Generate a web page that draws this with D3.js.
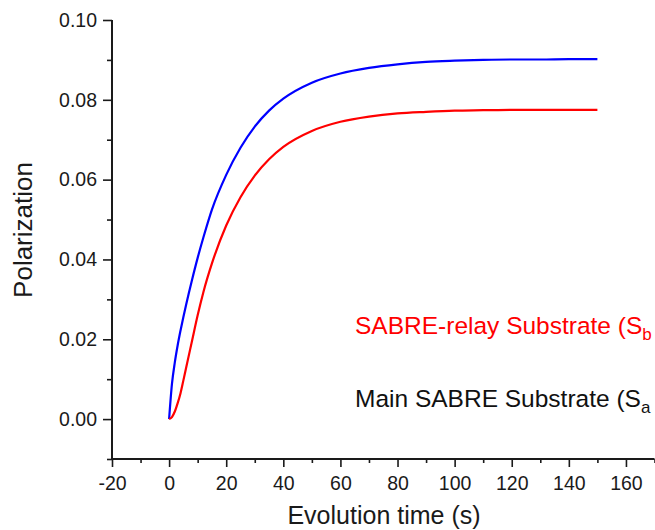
<!DOCTYPE html>
<html>
<head>
<meta charset="utf-8">
<script src="https://cdn.jsdelivr.net/npm/d3@7/dist/d3.min.js"></script>
<style>
  html, body { margin: 0; padding: 0; background: #fff; }
  svg { display: block; font-family: "Liberation Sans", Arial, sans-serif; }
</style>
</head>
<body>
<svg id="chart" width="655" height="530"></svg>
<script>
// ---- data ----
const times = [0, 1, 2, 3, 4, 5, 6, 8, 10, 12, 15, 20, 25, 30, 35, 40, 50, 60, 70, 80, 90, 100, 110, 120, 130, 140, 150];
const mainSubstrate = [0, 0.0088, 0.0142, 0.0185, 0.0222, 0.0256, 0.0288, 0.0348, 0.0404, 0.0455, 0.0525, 0.0612, 0.0680, 0.0733, 0.0773, 0.0803, 0.0843, 0.0866, 0.0880, 0.0889, 0.0895, 0.0898, 0.0900, 0.0901, 0.0901, 0.0902, 0.0902];
const relaySubstrate = [0, 0.0005, 0.0019, 0.0040, 0.0065, 0.0097, 0.0130, 0.0195, 0.0260, 0.0318, 0.0390, 0.0485, 0.0556, 0.0610, 0.0651, 0.0682, 0.0722, 0.0745, 0.0758, 0.0766, 0.0770, 0.0773, 0.0774, 0.0775, 0.0775, 0.0775, 0.0775];
const xTicks = [-20, 0, 20, 40, 60, 80, 100, 120, 140, 160];
const xMinorTicks = [-10, 10, 30, 50, 70, 90, 110, 130, 150, 170];
const yTicks = [0.00, 0.02, 0.04, 0.06, 0.08, 0.10];
const yMinorTicks = [-0.01, 0.01, 0.03, 0.05, 0.07, 0.09];
const legendLabels = [
  { name: "SABRE-relay Substrate (S", sub: "b" },
  { name: "Main SABRE Substrate (S", sub: "a" }
];
const xTitle = "Evolution time (s)";
const yTitle = "Polarization";

// ---- layout ----
const svg = d3.select("#chart");
const x = d3.scaleLinear().domain([-20, 170]).range([112, 654.5]);
const y = d3.scaleLinear().domain([-0.01, 0.10]).range([459, 20]);
const axisColor = "#1a1a1a";
const fontSize = 19.5;

// x axis
const gx = svg.append("g").attr("transform", `translate(0,${y(-0.01)})`);
gx.call(d3.axisBottom(x).tickValues(xTicks).tickSize(8).tickPadding(9).tickFormat(d => String(d)));
const gxm = svg.append("g").attr("transform", `translate(0,${y(-0.01)})`);
gxm.call(d3.axisBottom(x).tickValues(xMinorTicks).tickSize(4).tickFormat(""));
gxm.select(".domain").remove();

// y axis
const gy = svg.append("g").attr("transform", `translate(${x(-20)},0)`);
gy.call(d3.axisLeft(y).tickValues(yTicks).tickSize(9).tickPadding(6).tickFormat(d => d.toFixed(2)));
const gym = svg.append("g").attr("transform", `translate(${x(-20)},0)`);
gym.call(d3.axisLeft(y).tickValues(yMinorTicks).tickSize(5).tickFormat(""));
gym.select(".domain").remove();

svg.selectAll(".domain").attr("stroke", axisColor).attr("stroke-width", 2);
gx.select(".domain").attr("d", `M${x(-20)},0H${x(170)}`);
gy.select(".domain").attr("d", `M0,${y(-0.01)}V${y(0.10)}`);
svg.selectAll(".tick line").attr("stroke", axisColor).attr("stroke-width", 1.6);
svg.selectAll(".tick text").attr("fill", axisColor).style("font-size", fontSize + "px")
  .style("font-family", '"Liberation Sans", Arial, sans-serif');

// axis titles
svg.append("text")
  .attr("x", 384).attr("y", 524)
  .attr("text-anchor", "middle")
  .style("font-size", "25px").attr("fill", axisColor)
  .text(xTitle);
svg.append("text")
  .attr("transform", "translate(32,230) rotate(-90)")
  .attr("text-anchor", "middle")
  .style("font-size", "26px").attr("fill", axisColor)
  .text(yTitle);

// lines
const line = d3.line().x((d, i) => x(times[i])).y(d => y(d)).curve(d3.curveMonotoneX);
svg.append("path").datum(mainSubstrate)
  .attr("d", line).attr("fill", "none").attr("stroke", "#0000ff").attr("stroke-width", 2.2);
svg.append("path").datum(relaySubstrate)
  .attr("d", line).attr("fill", "none").attr("stroke", "#ff0000").attr("stroke-width", 2.2);

// legend
const legendColors = ["#ff0000", "#111111"];
const legendY = [334, 407];
legendLabels.forEach((lab, i) => {
  const t = svg.append("text")
    .attr("x", 355).attr("y", legendY[i])
    .style("font-size", "24.5px").attr("fill", legendColors[i]);
  t.append("tspan").text(lab.name);
  t.append("tspan").attr("dy", 6).style("font-size", "17px").text(lab.sub);
});
</script>
</body>
</html>
